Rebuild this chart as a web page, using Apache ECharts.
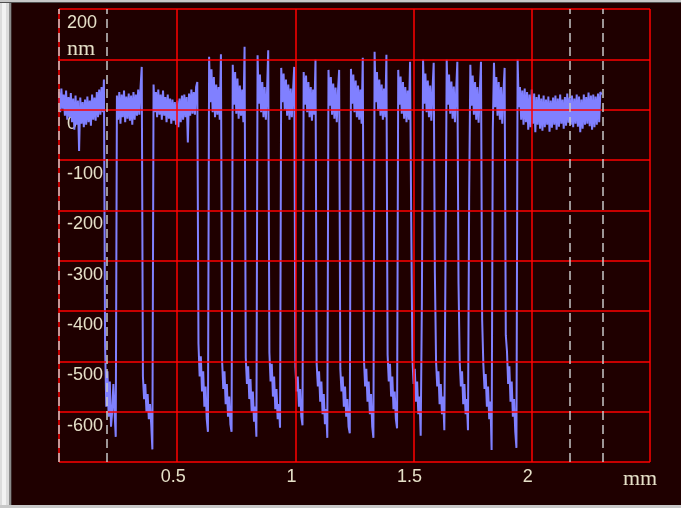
<!DOCTYPE html>
<html>
<head>
<meta charset="utf-8">
<script src="https://cdn.jsdelivr.net/npm/echarts@6/dist/echarts.min.js"></script>
<style>
  html, body { margin: 0; padding: 0; background: #1f0000; }
  #chart { width: 681px; height: 508px; }
</style>
</head>
<body>
<div id="chart"></div>
<script>
// ---------- DATA ----------
// Surface profile, sampled every SAMPLE_STEP_MM mm starting at 0 mm (values in nm)
const SAMPLE_STEP_MM = 0.005;

// 0.000 .. 0.190 mm : flat lead-in
const leadIn = [35, -5, 42, 2, 30, -12, 38, -20, 25, -15, 33, -25, 22, -40, 28, -30, 18, -82, 24, -28,
  15, -35, 20, -30, 26, -25, 18, -32, 30, -20, 24, -22, 35, -15, 40, -10, 45, -5, 60];

// 0.195 .. 0.585 mm : first trenches and wide lands
const wideSection = [
  -470, -590, -520, -610, -540, -630, -600, -545, -600, -650,
  28, -20, 35, -28, 30, -15, 38, -25, 26, -18, 32, -22, 28, -30, 35, -20, 30, -12, 40, -10, 45, 85,
  -530, -575, -545, -600, -565, -615, -585, -625, -675,
  50, -5, 35, -15, 40, -10, 30, -20, 38, -12, 25, -25, 30, -18, 22, -28, 20, -22, 15, -30,
  18, -35, 22, -25, 28, -20, 30, -15, 25, -65, 32, -12, 40, -8, 35, -10, 45, 55];

// 0.590 .. 1.085 mm : grating, part A
const gratingA = [
  -465, -530, -490, -560, -520, -590, -550, -615, -640,
  105, 15, 80, -5, 65, -15, 50, -10, 45, -20, 110,
  -500, -555, -520, -585, -545, -610, -570, -625, -640,
  89, 10, 75, -8, 62, -18, 48, -12, 40, -25, 125,
  -493, -545, -510, -575, -535, -600, -560, -620, -590, -650,
  108, 12, 70, -5, 55, -15, 45, -20, 35, 118,
  -483, -540, -505, -570, -530, -595, -555, -615, -585, -632,
  83, 15, 72, 0, 60, -12, 50, -20, 42, -15, 38, 85,
  -511, -560, -530, -590, -555, -610, -627,
  75, 10, 68, -5, 55, -15, 45, -22, 40, -10, 99];

// 1.090 .. 1.535 mm : grating, part B
const gratingB = [
  -505, -550, -520, -580, -540, -605, -565, -625, -595, -652,
  79, 8, 65, -10, 52, -18, 44, -25, 35, 79,
  -515, -560, -530, -590, -550, -610, -575, -630, -643,
  81, 12, 70, -5, 58, -15, 48, -20, 40, -28, 103,
  -497, -550, -515, -580, -540, -605, -565, -630, -652,
  115, 15, 75, -2, 60, -12, 50, -20, 42, -15, 109,
  -487, -540, -505, -570, -530, -595, -560, -615, -633,
  79, 10, 66, -8, 55, -18, 45, -25, 38, -20, 95,
  -223, -495, -545, -515, -580, -540, -605, -570, -648, -384];

// 1.540 .. 1.935 mm : grating, part C
const gratingC = [
  99, 12, 72, -5, 58, -15, 48, -22, 40, 93,
  -325, -500, -550, -520, -585, -545, -605, -570, -637, -299,
  99, 10, 70, -8, 56, -18, 46, -25, 38, 95,
  -345, -500, -550, -520, -585, -545, -605, -575, -637, -173,
  89, 8, 68, -10, 55, -20, 45, -26, 36, 95,
  -418, -505, -555, -525, -590, -550, -615, -580, -676, -40,
  93, 5, 65, -12, 55, -20, 45, -28, 35, 83,
  -448, -480, -545, -510, -580, -540, -610, -575, -640, -672];

// 1.940 .. 2.295 mm : flat lead-out
const leadOut = [99, 5, 45, -20, 38, -30, 42, -25, 35, -40, 30, -35, 40, -28, 32, -45, 25, -30, 30, -38,
  22, -42, 28, -35, 20, -30, 26, -44, 18, -36, 24, -30, 28, -40, 22, -34, 30, -28, 20, -38,
  25, -32, 32, -26, 24, -30, 28, -35, 22, -28, 30, -34, 26, -45, 20, -38, 30, -30, 25, -28,
  34, -33, 28, -40, 30, -35, 26, -30, 32, -25, 35, 30];

// Dashed cursor lines (mm)
const cursorPositions = [0, 0.195, 2.157, 2.297];

// Axis ranges / ticks
const xTicks = [0, 0.5, 1, 1.5, 2, 2.5];
const yTicks = [200, 100, 0, -100, -200, -300, -400, -500, -600, -700];
const xUnit = 'mm';
const yUnit = 'nm';

// ---------- BUILD ----------
const samples = [].concat(leadIn, wideSection, gratingA, gratingB, gratingC, leadOut);
const profile = samples.map((v, i) => [+(i * SAMPLE_STEP_MM).toFixed(4), v]);

const xMin = Math.min.apply(null, xTicks), xMax = Math.max.apply(null, xTicks);
const yMin = Math.min.apply(null, yTicks), yMax = Math.max.apply(null, yTicks);
const xStep = xTicks[1] - xTicks[0], yStep = yTicks[0] - yTicks[1];

const TXT = '#e6e0c8';
const RED = '#ff0000';
const SANS = 'Liberation Sans';
const SERIF = 'Liberation Serif';

const chart = echarts.init(document.getElementById('chart'), null, { renderer: 'canvas' });

const gridLineStyle = { show: true, showMinLine: true, showMaxLine: true, lineStyle: { color: RED, width: 1.5 } };
const hidden = { axisLine: { show: false }, axisTick: { show: false } };

chart.setOption({
  animation: false,
  backgroundColor: '#1f0000',
  grid: { left: 59, right: 31, top: 9, bottom: 46, containLabel: false },
  xAxis: [
    Object.assign({
      type: 'value', min: xMin, max: xMax, interval: xStep, position: 'bottom', z: 0,
      splitLine: { show: false },
      axisLabel: {
        color: TXT, fontFamily: SANS, fontSize: 18, margin: 6, padding: [0, 8, 0, 0],
        showMinLabel: true, showMaxLabel: true,
        formatter: function (v) {
          if (Math.abs(v - xMin) < 1e-9) return '';
          if (Math.abs(v - xMax) < 1e-9) return '{u|' + xUnit + '}';
          return String(v);
        },
        rich: { u: { fontFamily: SERIF, fontSize: 22, color: TXT, padding: [0, 12, 0, 0] } }
      }
    }, hidden),
    Object.assign({
      type: 'value', min: xMin, max: xMax, interval: xStep, position: 'top', z: 4,
      axisLabel: { show: false }, splitLine: gridLineStyle
    }, hidden)
  ],
  yAxis: [
    Object.assign({
      type: 'value', min: yMin, max: yMax, interval: yStep, position: 'left', z: 0,
      splitLine: { show: false },
      axisLabel: {
        inside: true, margin: 8, align: 'left', verticalAlign: 'top',
        color: TXT, fontFamily: SANS, fontSize: 18, lineHeight: 18, padding: [5, 0, 0, 0],
        showMinLabel: true, showMaxLabel: true,
        formatter: function (v) {
          if (v === yMin) return '';
          if (v === yMax) return v + '\n{u|' + yUnit + '}';
          return String(v);
        },
        rich: { u: { fontFamily: SERIF, fontSize: 22, lineHeight: 34, color: TXT } }
      }
    }, hidden),
    Object.assign({
      type: 'value', min: yMin, max: yMax, interval: yStep, position: 'right', z: 4,
      axisLabel: { show: false }, splitLine: gridLineStyle
    }, hidden)
  ],
  graphic: [
    { type: 'rect', silent: true, z: 100, shape: { x: 0, y: 0, width: 9, height: 508 }, style: { fill: '#dcdcdc' } },
    { type: 'rect', silent: true, z: 100, shape: { x: 2, y: 0, width: 4, height: 508 }, style: { fill: '#f2f2f2' } },
    { type: 'rect', silent: true, z: 100, shape: { x: 9, y: 0, width: 2, height: 508 }, style: { fill: '#8a8a8a' } },
    { type: 'rect', silent: true, z: 100, shape: { x: 11, y: 0, width: 1, height: 508 }, style: { fill: '#3a2a2a' } },
    { type: 'rect', silent: true, z: 100, shape: { x: 0, y: 0, width: 681, height: 2 }, style: { fill: '#c8c8c8' } },
    { type: 'rect', silent: true, z: 100, shape: { x: 0, y: 2, width: 681, height: 1 }, style: { fill: '#505050' } },
    { type: 'rect', silent: true, z: 100, shape: { x: 0, y: 505, width: 681, height: 3 }, style: { fill: '#c8c8c8' } }
  ],
  series: [
    {
      name: 'profile',
      type: 'line',
      xAxisIndex: 0, yAxisIndex: 0,
      z: 2,
      data: profile,
      showSymbol: false,
      symbol: 'none',
      sampling: null,
      smooth: false,
      lineStyle: { color: '#8080ff', width: 2 },
      markLine: {
        z: 6,
        silent: true,
        animation: false,
        symbol: ['none', 'none'],
        label: { show: false },
        lineStyle: { color: '#c8c8c8', width: 1.5, type: [9, 5] },
        data: cursorPositions.map(x => ({ xAxis: x }))
      }
    }
  ]
});
</script>
</body>
</html>
